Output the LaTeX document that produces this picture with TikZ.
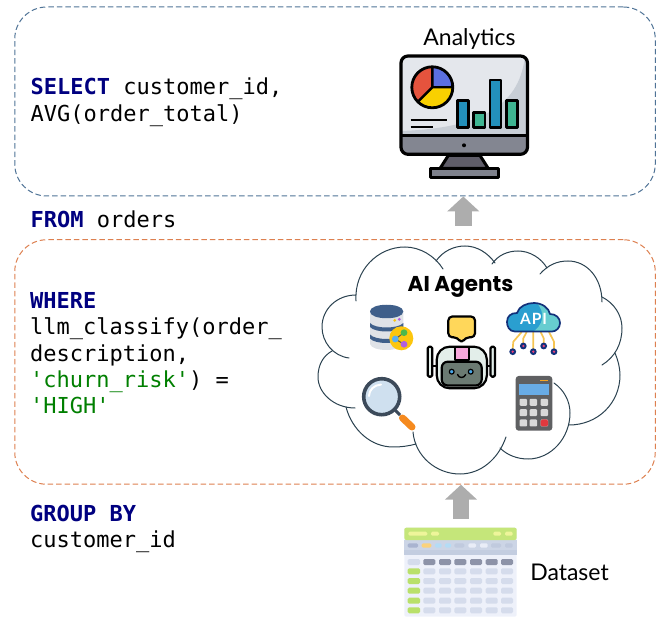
\documentclass[tikz,border=0pt]{standalone}
\usepackage{fontspec}
\setmainfont{Lato}
\setmonofont{DejaVu Sans Mono}
\newfontfamily\headfont{Poppins}
\usetikzlibrary{arrows.meta}
\definecolor{kwblue}{HTML}{000080}
\definecolor{strgreen}{HTML}{007F00}
\definecolor{boxblue}{HTML}{4F7396}
\definecolor{boxorange}{HTML}{DD8050}
\definecolor{cloudline}{HTML}{2B4250}
\definecolor{arrowgray}{HTML}{ADADAD}
\definecolor{tmpc}{HTML}{000000}
\newcommand\pillc[5]{\definecolor{tmpc}{HTML}{#5}\fill[tmpc,rounded corners=1.4pt] (#1,#2) rectangle (#3,#4);}
\newcommand\hxfill[2]{\definecolor{tmpc}{HTML}{#1}\fill[tmpc] #2;}
\newcommand\hxdraw[3]{\definecolor{tmpc}{HTML}{#1}\fill[tmpc,draw=black,line width=#2] #3;}
\tikzset{
  x=1pt,y=-1pt,
  framebox/.style={draw=#1,dash pattern=on 5.5pt off 3pt,line width=1pt,rounded corners=32pt,inner sep=0pt,minimum width=640.5pt},
  code/.style={font=\ttfamily\fontsize{22}{26.4}\selectfont,anchor=north west,align=left,inner sep=0pt,text=black},
  label/.style={font=\fontsize{23}{27}\selectfont,inner sep=0pt,text=black},
  cloudarc/.style={draw=cloudline,line width=1pt,line cap=round},
  blockarrow/.style={draw=arrowgray,line width=16.5pt,-{Triangle[width=31.5pt,length=15pt,fill=arrowgray]}},
}
\newcommand\kw[1]{\textcolor{kwblue}{\bfseries #1}}
\newcommand\str[1]{\textcolor{strgreen}{#1}}
\begin{document}
\begin{tikzpicture}
\useasboundingbox (0,0) rectangle (659,617);
% frames
\node[framebox=boxblue,minimum height=189pt] (selectBox) at (335,101.5) {};
\node[framebox=boxorange,minimum height=244.5pt] (whereBox) at (335,362) {};
% code text
\node[code] (selectText) at (30.5,78) {\kw{SELECT} customer\_id,\\AVG(order\_total)};
\node[code] (fromText) at (30.5,211) {\kw{FROM} orders};
\node[code] (whereText) at (30,292) {\kw{WHERE}\\llm\_classify(order\_\\description,\\\str{'churn\_risk'}) =\\\str{'HIGH'}};
\node[code] (groupText) at (30,505) {\kw{GROUP BY}\\customer\_id};
% labels
\node[label] (analyticsLabel) at (469.5,39) {Analytics};
\node[label,font=\headfont\bfseries\fontsize{21.5}{25}\selectfont] (agentsLabel) at (460.5,286.5) {AI Agents};
\node[label,font=\fontsize{23}{27}\selectfont] (datasetLabel) at (569.5,572.5) {Dataset};
% cloud
\draw[cloudarc] (356,301) .. controls (354,270) and (378,247) .. (405,247) .. controls (420,247) and (435,256) .. (443,269);
\draw[cloudarc] (436,261) .. controls (443,251) and (454,246) .. (465,246) .. controls (477,246) and (488,253) .. (495,263);
\draw[cloudarc] (492,264) .. controls (498,255) and (508,251) .. (518,251) .. controls (530,251) and (541,258) .. (547,268);
\draw[cloudarc] (540,274) .. controls (548,265) and (557,261) .. (568,261) .. controls (587,261) and (602,278) .. (602,302);
\draw[cloudarc] (602,297) .. controls (614,303) and (622,315) .. (622,328) .. controls (622,344) and (615,357) .. (602,365);
\draw[cloudarc] (615,353) .. controls (618,360) and (620,368) .. (620,375) .. controls (620,403) and (598,425) .. (569,425);
\draw[cloudarc] (554,383) .. controls (564,390) and (570,401) .. (570,413) .. controls (570,438) and (551,459) .. (528,459) .. controls (517,459) and (507,455) .. (500,448);
\draw[cloudarc] (506,437) .. controls (498,460) and (480,474) .. (460,474) .. controls (436,474) and (415,456) .. (413,432);
\draw[cloudarc] (416,444) .. controls (409,446) and (401,447) .. (393,447) .. controls (371,447) and (352,430) .. (346,407);
\draw[cloudarc] (355,408) .. controls (334,408) and (318,393) .. (318,377) .. controls (318,365) and (323,356) .. (332,351);
\draw[cloudarc] (349,358) .. controls (333,356) and (322,342) .. (322,327) .. controls (322,309) and (337,295) .. (356,295);
% block arrows
\coordinate (cloudTop) at (463.3,226);
\coordinate (datasetTop) at (461,518.7);
\draw[blockarrow] (cloudTop) -- (selectBox.south -| cloudTop);
\draw[blockarrow] (datasetTop) -- (whereBox.south -| datasetTop);
% ---- monitor
\begin{scope}[line join=round]
\definecolor{scr}{HTML}{E4E7EC}\definecolor{scrd}{HTML}{C8CED6}\definecolor{bez}{HTML}{838691}
\fill[scr,rounded corners=7pt] (401,56) rectangle (527.5,140);
\begin{scope}
\clip[rounded corners=7pt] (401,56) rectangle (527.5,140);
\fill[scrd] (525,56) .. controls (520,100) and (490,128) .. (401,131) -- (401,140) -- (527.5,140) -- (527.5,56) -- cycle;
\end{scope}
\begin{scope}
\clip (395,136) rectangle (535,160);
\fill[bez,rounded corners=7pt] (401,120) rectangle (527.5,154.3);
\end{scope}
\draw[line width=3.2pt,rounded corners=7pt] (401,56) rectangle (527.5,154.3);
\draw[line width=3pt] (401,136) -- (527.5,136);
\fill (464,145.3) circle[radius=2pt];
\hxdraw{5F5D69}{3pt}{(448.3,155.5) -- (480,155.5) -- (488.3,168.5) -- (440,168.5) -- cycle}
\hxdraw{7E818C}{3pt}{(430,168.3) rectangle (498.3,177.5)}
% pie
\hxfill{E5533D}{(432.3,87.3) -- (432.3,66.8) arc[start angle=90,end angle=225,radius=20.5pt] -- cycle}
\hxfill{5B6FE0}{(432.3,87.3) -- (452.8,87.3) arc[start angle=0,end angle=90,radius=20.5pt] -- cycle}
\hxfill{F9D000}{(432.3,87.3) -- (417.8,101.8) arc[start angle=225,end angle=360,radius=20.5pt] -- cycle}
\draw[line width=2.8pt] (432.3,87.3) circle[radius=20.5pt];
\draw[line width=2.4pt] (432.3,66.8) -- (432.3,87.3) -- (452.8,87.3) (432.3,87.3) -- (417.8,101.8);
% bars
\hxdraw{2390BB}{2.6pt}{(457.3,100.7) rectangle (468.7,127.7)}
\hxdraw{3FB592}{2.6pt}{(473.3,112.7) rectangle (485,127.7)}
\hxdraw{2390BB}{2.6pt}{(490,80) rectangle (501,127.7)}
\hxdraw{3FB592}{2.6pt}{(506.7,100.7) rectangle (517.7,127.7)}
\draw[line width=2.3pt] (410.7,120) -- (446.7,120) (410.7,127) -- (433.3,127);
\end{scope}
% ---- robot
\begin{scope}[line join=round,line width=2.2pt]
\definecolor{tmpa}{HTML}{FFD75A}
\fill[tmpa,draw=black,rounded corners=4pt] (448.3,316.5) -- (475,316.5) -- (475,337.3) -- (465.5,337.3) -- (461.5,343.5) -- (457.5,337.3) -- (448.3,337.3) -- cycle;
\definecolor{tmpb}{HTML}{E3EEEA}
\draw[rounded corners=1.5pt,fill=tmpb] (427.7,346.7) rectangle (432.3,376.7);
\draw[rounded corners=1.5pt,fill=tmpb] (490.5,346.7) rectangle (495,376.7);
\draw (432.3,366) -- (437,366) (486.5,366) -- (490.5,366);
\draw[rounded corners=13pt,fill=tmpb] (436.7,346.7) rectangle (486.9,388.3);
\definecolor{tmpd}{HTML}{6B7A72}
\draw[rounded corners=6pt,fill=tmpd] (441.7,361.7) rectangle (481.7,385.5);
\definecolor{tmpe}{HTML}{F7A8DC}
\draw[line width=1.8pt,fill=tmpe] (455,347.2) rectangle (469,360);
\definecolor{tmpf}{HTML}{4AA8E8}
\draw[line width=1.2pt,fill=tmpf] (451.7,371.7) circle[radius=2.4pt];
\draw[line width=1.2pt,fill=tmpf] (470.7,371.7) circle[radius=2.4pt];
\draw[line width=1.4pt,line cap=round] (457.5,374.5) .. controls (459,378.5) and (464,378.5) .. (465.7,374.5);
\end{scope}
% ---- database
\begin{scope}
\hxfill{DFE2E7}{(370,311) -- (370,344) .. controls (372,352) and (401,352) .. (403.3,344) -- (403.3,311) -- cycle}
\hxfill{3F5F8A}{(370,323) .. controls (375,329) and (398,329) .. (403.3,323) -- (403.3,327) .. controls (398,333) and (375,333) .. (370,327) -- cycle}
\hxfill{3F5F8A}{(370,334.5) .. controls (375,340.5) and (398,340.5) .. (403.3,334.5) -- (403.3,338.5) .. controls (398,344.5) and (375,344.5) .. (370,338.5) -- cycle}
\hxfill{3F5F8A}{(370,311.5) .. controls (370,302.5) and (403.3,302.5) .. (403.3,311.5) .. controls (403.3,320.5) and (370,320.5) .. (370,311.5) -- cycle}
\hxfill{F8C515}{(394.7,320.3) circle[radius=1.5pt]}
\hxfill{B060E0}{(399.3,319.3) circle[radius=1.6pt]}
\hxfill{FCC60E}{(401.3,338.3) circle[radius=12pt]}
\definecolor{tmpg}{HTML}{555555}
\draw[tmpg,line width=1pt] (404,332.7) -- (395.3,339) -- (404,344.3);
\hxfill{4CB84C}{(404,332.7) circle[radius=3.4pt]}
\hxfill{5AB0F0}{(395.3,339) circle[radius=3.4pt]}
\hxfill{B060E0}{(404,344.3) circle[radius=3.4pt]}
\end{scope}
% ---- magnifier
\begin{scope}
\definecolor{ringc}{HTML}{3C4A5A}\definecolor{glassc}{HTML}{CFE0EF}\definecolor{handc}{HTML}{F58A1F}
\draw[ringc,line width=3.6pt,fill=glassc] (381.7,396.7) circle[radius=18pt];
\draw[white,line width=2pt,line cap=round] (369,396) .. controls (369,390) and (374,385) .. (381,384.5);
\draw[ringc,line width=3pt] (394.5,409.5) -- (400,415);
\draw[handc,line width=7pt,line cap=round] (402.5,418) -- (412,427);
\end{scope}
% ---- API cloud
\begin{scope}
\definecolor{legc}{HTML}{F5C451}\definecolor{navyc}{HTML}{13317A}\definecolor{pinkc}{HTML}{E8407A}
\definecolor{apib}{HTML}{2A9FD0}\definecolor{apit}{HTML}{67CDD0}
\draw[legc,line width=1.7pt,line join=round]
  (521.7,332) -- (513.3,341.7) -- (512.7,349)
  (526.7,332) -- (523.3,338.3) -- (523.3,343)
  (533.3,332) -- (533.3,349)
  (540.7,332) -- (543.7,338.3) -- (543.7,343)
  (549,332) -- (554,341.7) -- (554,349);
\foreach \px/\py in {512.7/351.7,523.3/346,533.3/351.7,543.7/346,554/351.7}{
  \fill[navyc] (\px,\py) circle[radius=3.4pt];
  \fill[pinkc] (\px,\py) circle[radius=1.3pt];
}
\fill[apib] (515,331.5) .. controls (509,331.5) and (507,326) .. (507,322) .. controls (507,316) and (511,313) .. (517,313) .. controls (519,306) and (527,303) .. (534,303) .. controls (542,303) and (549,308) .. (550,314) .. controls (556,314) and (560,318) .. (560,323) .. controls (560,328) and (556,331.5) .. (552,331.5) -- cycle;
\begin{scope}
\clip (515,331.5) .. controls (509,331.5) and (507,326) .. (507,322) .. controls (507,316) and (511,313) .. (517,313) .. controls (519,306) and (527,303) .. (534,303) .. controls (542,303) and (549,308) .. (550,314) .. controls (556,314) and (560,318) .. (560,323) .. controls (560,328) and (556,331.5) .. (552,331.5) -- cycle;
\fill[apit] (536,302) .. controls (546,312) and (544,326) .. (531,333) -- (562,333) -- (562,302) -- cycle;
\end{scope}
\draw[navyc,line width=1.7pt,line join=round] (515,331.5) .. controls (509,331.5) and (507,326) .. (507,322) .. controls (507,316) and (511,313) .. (517,313) .. controls (519,306) and (527,303) .. (534,303) .. controls (542,303) and (549,308) .. (550,314) .. controls (556,314) and (560,318) .. (560,323) .. controls (560,328) and (556,331.5) .. (552,331.5) -- cycle;
\node[inner sep=0pt,text=white,font=\bfseries\fontsize{15.5}{17}\selectfont] (apiLabel) at (533.5,319) {A\kern1pt P\kern1pt I};
\end{scope}
% ---- calculator
\begin{scope}
\definecolor{calc}{HTML}{5F6062}\definecolor{calcs}{HTML}{68ACE6}\definecolor{calco}{HTML}{F5A623}\definecolor{calcb}{HTML}{D9D9D9}
\fill[calc,rounded corners=3pt] (515.7,376) rectangle (552.3,430.7);
\fill[calcs] (519.3,384) rectangle (549,394.7);
\draw[calco,line width=1.2pt] (540,380.2) -- (548.3,380.2);
\foreach \bx in {523.3,533.3,544.3}{\foreach \by in {402.3,412.7,423}{
  \fill[calcb,rounded corners=1pt] (\bx-3.7,\by-3.5) rectangle (\bx+3.7,\by+3.5);
}}
\pillc{540.6}{419.5}{548}{426.5}{E0393E}
\end{scope}
% ---- dataset table
\begin{scope}
\definecolor{tpanel}{HTML}{EEF1FA}\definecolor{thead}{HTML}{C5E67A}\definecolor{tband}{HTML}{CCD5E6}\definecolor{tband2}{HTML}{C3CDE0}
\fill[tpanel,rounded corners=2pt] (404.3,527.7) rectangle (516.7,616.7);
\fill[tband] (404.3,540) rectangle (516.7,550);
\fill[tband2] (404.3,550) rectangle (516.7,555);
\fill[thead,rounded corners=2pt] (404.3,527.7) rectangle (516.7,540);
\pillc{408.3}{531.7}{427.3}{535.7}{EEF59A}
\pillc{431}{531.7}{439}{535.7}{EEF59A}
\pillc{493.3}{531.7}{501}{535.7}{EEF59A}
\pillc{505}{531.7}{512.7}{535.7}{EEF59A}
\pillc{407.7}{543.3}{418}{547.7}{A9B4D0}
\pillc{421.7}{543.3}{431.3}{547.7}{FBD27C}
\pillc{435}{543.3}{441.7}{547.7}{B4DCF5}
\pillc{445}{543.3}{451}{547.7}{B4DCF5}
\pillc{454.3}{543.3}{464.3}{547.7}{C0CADE}
\pillc{468.3}{543.3}{476}{547.7}{E9EDF7}
\pillc{480}{543.3}{487.7}{547.7}{E9EDF7}
\pillc{491}{543.3}{501}{547.7}{C0CADE}
\pillc{505}{543.3}{512.7}{547.7}{C0CADE}
\pillc{407.7}{559}{420}{565}{D5DCEC}
\definecolor{thd}{HTML}{8D93A8}\definecolor{tgr}{HTML}{B9E06A}\definecolor{tcl}{HTML}{D5DCEC}
\foreach \cx in {423.3,439,454.3,470,485.7,501}{
  \fill[thd,rounded corners=1.4pt] (\cx,559) rectangle (\cx+12,565);
  \foreach \ry in {571.3,581,590.7,600.7,610.3}{
    \fill[tcl,rounded corners=1.4pt] (\cx,\ry-3) rectangle (\cx+12,\ry+3);
  }
}
\foreach \ry in {571.3,581,590.7,600.7,610.3}{
  \fill[tgr,rounded corners=1.4pt] (407.7,\ry-3) rectangle (420,\ry+3);
}
\end{scope}
\end{tikzpicture}
\end{document}
